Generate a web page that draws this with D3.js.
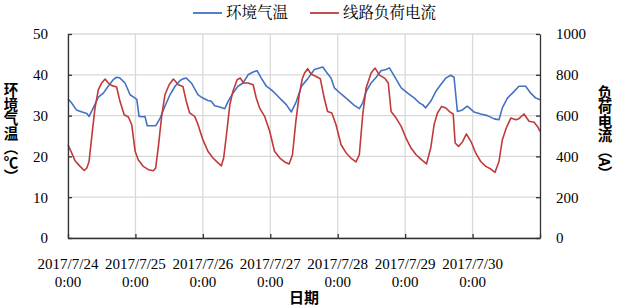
<!DOCTYPE html>
<html>
<head>
<meta charset="utf-8">
<script src="https://cdn.jsdelivr.net/npm/d3@7"></script>
<style>
  body { margin: 0; background: #fff; }
  text { font-family: "Liberation Serif", "Times New Roman", serif; fill: #000; }
  .cjk { font-family: "Noto Serif CJK SC", "Noto Sans CJK SC", sans-serif; }
  .title { font-family: "Noto Sans CJK SC", sans-serif; font-weight: bold; }
</style>
</head>
<body>
<script>
// hours after 2017/7/24 0:00
var tempHours = [0, 1.3, 3, 5, 6.7, 7.5, 9, 10.8, 12.6, 14.3, 16.1, 17.3, 18.5, 20.3, 22.1, 23.9,
  24.5, 25.3, 26.5, 27.4, 28.2, 31.2, 32.8, 34.5, 36.3, 38.1, 39.9, 40.9, 42.1, 43.9, 46.3,
  48, 49.8, 51, 52.2, 54, 55.8, 57, 58.7, 60.5, 62.3, 64.1, 65.9, 67.3, 68.8, 70.6,
  72.4, 74.2, 75.9, 77.7, 79.5, 81.3, 83.1, 85.3, 87.7, 90.7, 91.8, 93.6, 94.8,
  97.2, 99.6, 101.9, 103.7, 104.9, 106.1, 107.9, 109.7, 111.4, 113.2, 114.4, 116.2, 118.6,
  120.9, 123.3, 125.1, 126.2, 127.3, 129.1, 130.9, 132.7, 134.5, 136.2, 137.4, 138.6, 140.4, 142.1,
  144.5, 146.9, 149.3, 151.7, 153.4, 154.6, 156.4, 158.2, 160.5, 162.9, 164.7, 166.5, 168];
var tempValues = [34.1, 33.1, 31.4, 30.9, 30.5, 29.8, 31.9, 34.5, 35.5, 37.2, 38.8, 39.4, 39.2, 38.0, 35.1, 34.3,
  33.9, 29.8, 29.7, 29.8, 27.5, 27.5, 29.4, 32.3, 35.1, 37.2, 38.6, 39.0, 39.2, 38.0, 35.1,
  34.3, 33.7, 33.5, 32.4, 32.1, 31.7, 33.5, 35.5, 37.2, 38.0, 40.0, 40.7, 41.0, 39.2, 37.2,
  36.3, 35.1, 33.9, 32.7, 30.9, 33.5, 37.2, 39.0, 41.3, 41.9, 40.8, 39.2, 36.8,
  35.3, 33.9, 32.5, 31.7, 33.1, 35.9, 38.0, 39.4, 41.0, 41.3, 41.7, 39.6, 36.8,
  35.5, 34.3, 33.1, 32.7, 31.9, 33.5, 35.9, 37.6, 39.2, 39.9, 39.4, 31.0, 31.4, 32.3,
  30.9, 30.4, 30.0, 29.2, 29.0, 31.9, 34.3, 35.5, 37.2, 37.2, 35.5, 34.3, 33.9];

var loadHours = [0, 1.3, 2.5, 4.3, 5.8, 6.7, 7.5, 8.4, 9.6, 10.8, 12, 13.2, 14.3, 15.6, 17.3, 18.5, 20, 21.5, 22.7, 23.9,
  25, 26.8, 28.6, 30.4, 31.2, 32.1, 33.4, 34.5, 36, 37.5, 39.3, 40.9, 42.1, 43.3, 45.1, 46.3,
  48, 49.8, 51.6, 53.4, 54.6, 55.4, 56.4, 57.6, 58.7, 60.2, 61.3, 62.5, 64.1, 65.9, 67, 68.2, 70, 71.8,
  73.5, 75.4, 77.1, 78.7, 79.9, 81.1, 82.3, 83.4, 84.2, 85.3, 86.5, 88.3, 89.8, 91.2, 92.4, 93.9, 95.4,
  97.2, 99, 100.7, 102.5, 103.7, 104.9, 106.1, 107.9, 109.3, 110.8, 112.9, 114, 115, 116.8, 118.6,
  120.3, 122.1, 123.9, 125.4, 126.2, 127.6, 129.1, 130.3, 131.5, 133, 134.5, 135.9, 137.1, 137.8, 139, 140.4, 141.8, 143.4,
  145.1, 146.9, 148.7, 150.5, 152, 153.4, 154.6, 156, 157.6, 159.4, 160.5, 162.3, 164.1, 165.9, 167.1, 168];
var loadValues = [457, 417, 379, 351, 331, 343, 375, 490, 637, 727, 760, 779, 760, 747, 740, 670, 604, 593, 555, 425,
  384, 351, 335, 330, 343, 441, 604, 702, 751, 779, 751, 743, 670, 613, 596, 555,
  482, 425, 392, 368, 354, 392, 506, 653, 719, 776, 784, 760, 760, 751, 686, 637, 596, 523,
  425, 392, 373, 363, 408, 572, 702, 781, 809, 830, 804, 792, 781, 686, 620, 613, 555,
  457, 417, 392, 373, 408, 604, 735, 809, 833, 800, 781, 760, 620, 588, 547,
  490, 441, 408, 389, 379, 363, 441, 555, 613, 645, 637, 618, 608, 466, 449, 471, 510, 474,
  417, 375, 351, 338, 322, 375, 482, 539, 588, 580, 585, 608, 572, 567, 547, 523];

var dayLabels = ["2017/7/24", "2017/7/25", "2017/7/26", "2017/7/27", "2017/7/28", "2017/7/29", "2017/7/30"];
var leftTicks = [0, 10, 20, 30, 40, 50];
var rightTicks = [0, 200, 400, 600, 800, 1000];
var seriesNames = ["环境气温", "线路负荷电流"];
var colors = ["#4472c4", "#c0393b"];

function buildChart() {
  var width = 618, height = 307;
  var plotLeft = 68, plotRight = 540, plotTop = 34, plotBottom = 238;

  var svg = d3.select("body").append("svg")
    .attr("width", width)
    .attr("height", height);

  var start = new Date(2017, 6, 24);
  var end = new Date(2017, 6, 31);
  function toDate(h) { return new Date(start.getTime() + h * 3600000); }
  var days = d3.timeDay.range(start, end);

  var x = d3.scaleTime().domain([start, end]).range([plotLeft, plotRight]);
  var yL = d3.scaleLinear().domain([0, 50]).range([plotBottom, plotTop]);
  var yR = d3.scaleLinear().domain([0, 1000]).range([plotBottom, plotTop]);

  // grid
  var grid = svg.append("g").attr("stroke", "#d9d9d9").attr("stroke-width", 1.3);
  grid.selectAll(".h").data(leftTicks).enter().append("line")
    .attr("x1", plotLeft).attr("x2", plotRight)
    .attr("y1", d => yL(d)).attr("y2", d => yL(d));
  grid.selectAll(".v").data(days).enter().append("line")
    .attr("x1", d => x(d)).attr("x2", d => x(d))
    .attr("y1", plotTop).attr("y2", plotBottom);

  // lines
  var tempData = tempHours.map((h, i) => [h, tempValues[i]]);
  var loadData = loadHours.map((h, i) => [h, loadValues[i]]);

  svg.append("path")
    .datum(tempData)
    .attr("fill", "none")
    .attr("stroke", colors[0])
    .attr("stroke-width", 1.6)
    .attr("stroke-linejoin", "round")
    .attr("d", d3.line().x(d => x(toDate(d[0]))).y(d => yL(d[1])));

  svg.append("path")
    .datum(loadData)
    .attr("fill", "none")
    .attr("stroke", colors[1])
    .attr("stroke-width", 1.6)
    .attr("stroke-linejoin", "round")
    .attr("d", d3.line().x(d => x(toDate(d[0]))).y(d => yR(d[1])));

  // axes
  function styleAxis(g) {
    g.select(".domain").attr("stroke", "#333").attr("stroke-width", 1.3);
    g.selectAll(".tick line").attr("stroke", "#333").attr("stroke-width", 1.3);
    g.selectAll("text").attr("fill", "#000")
      .style("font-size", "15px")
      .style("font-family", "'Liberation Serif', 'Times New Roman', serif");
  }

  svg.append("g")
    .attr("transform", "translate(" + plotLeft + ",0)")
    .call(d3.axisLeft(yL).tickValues(leftTicks).tickFormat(d3.format("d"))
      .tickSizeInner(-4).tickSizeOuter(0).tickPadding(20))
    .call(styleAxis);

  svg.append("g")
    .attr("transform", "translate(" + plotRight + ",0)")
    .call(d3.axisRight(yR).tickValues(rightTicks).tickFormat(d3.format("d"))
      .tickSizeInner(-4).tickSizeOuter(0).tickPadding(16))
    .call(styleAxis);

  svg.append("g")
    .attr("transform", "translate(0," + plotBottom + ")")
    .call(d3.axisBottom(x).tickValues(days.concat([end])).tickSizeInner(-4).tickSizeOuter(0).tickFormat(""))
    .call(styleAxis);

  var xl = svg.append("g").attr("font-size", 15).attr("text-anchor", "middle");
  xl.selectAll("text").data(days).enter().append("text")
    .each(function(d, i) {
      var t = d3.select(this);
      t.append("tspan").attr("x", x(d)).attr("y", 269).text(dayLabels[i]);
      t.append("tspan").attr("x", x(d)).attr("y", 287).text("0:00");
    });

  // axis titles
  svg.append("text")
    .attr("class", "title")
    .attr("x", (plotLeft + plotRight) / 2)
    .attr("y", 303)
    .attr("text-anchor", "middle")
    .attr("font-size", 15)
    .text("日期");

  svg.append("text")
    .attr("class", "title")
    .attr("x", 11)
    .attr("y", 133)
    .attr("text-anchor", "middle")
    .attr("font-size", 14.5)
    .style("writing-mode", "vertical-rl")
    .text("环境气温（℃）");

  svg.append("text")
    .attr("class", "title")
    .attr("x", 605)
    .attr("y", 133)
    .attr("text-anchor", "middle")
    .attr("font-size", 14.5)
    .style("writing-mode", "vertical-rl")
    .text("负荷电流（A）");

  // legend
  var legendX = [193, 310];
  var legend = svg.append("g");
  seriesNames.forEach(function(name, i) {
    legend.append("line")
      .attr("x1", legendX[i]).attr("x2", legendX[i] + 29)
      .attr("y1", 13).attr("y2", 13)
      .attr("stroke", colors[i]).attr("stroke-width", 1.8);
    legend.append("text")
      .attr("class", "cjk")
      .attr("x", legendX[i] + 33)
      .attr("y", 13)
      .attr("dy", "0.35em")
      .attr("font-size", 15.5)
      .text(name);
  });
}

buildChart();
</script>
</body>
</html>
